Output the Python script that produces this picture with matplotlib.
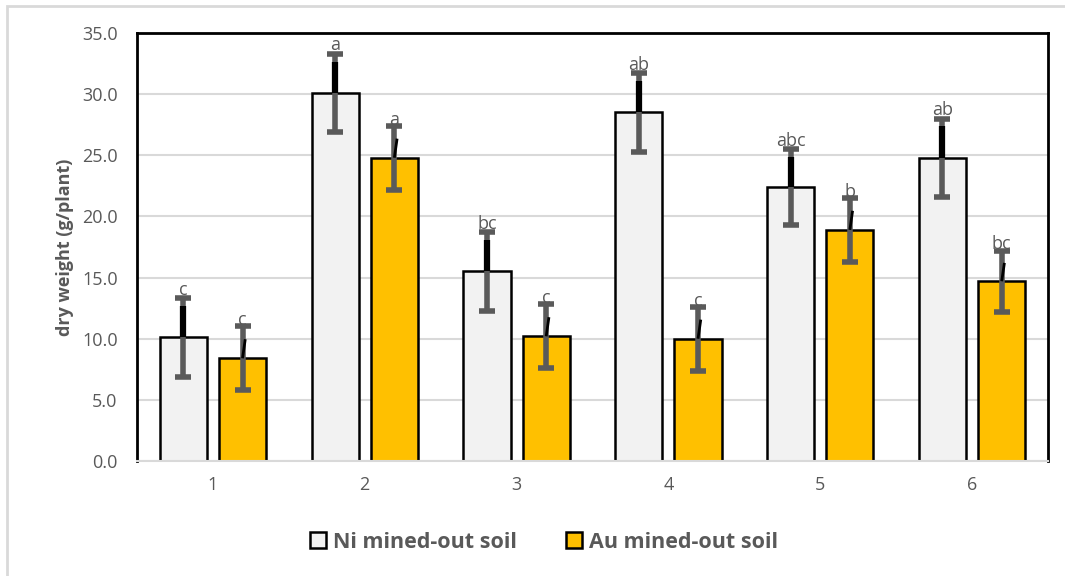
import numpy as np
from matplotlib import pyplot as plt
from matplotlib.patches import Rectangle

categories = ["1", "2", "3", "4", "5", "6"]
ni_values = [10.1, 30.1, 15.5, 28.5, 22.4, 24.8]
ni_errors = [3.2, 3.2, 3.2, 3.2, 3.1, 3.2]
au_values = [8.4, 24.8, 10.2, 10.0, 18.9, 14.7]
au_errors = [2.6, 2.6, 2.6, 2.6, 2.6, 2.5]
ni_letters = ["c", "a", "bc", "ab", "abc", "ab"]
au_letters = ["c", "a", "c", "c", "b", "bc"]
series_names = ["Ni mined-out soil", "Au mined-out soil"]
yticks = [0, 5, 10, 15, 20, 25, 30, 35]

GRAY_TEXT = "#595959"
ERR_COLOR = "#5a5a5a"
GRID = "#d9d9d9"

plt.rcParams['font.family'] = ['Open Sans', 'DejaVu Sans']

fig = plt.figure(figsize=(10.65, 5.76), dpi=100)
fig.patches.append(Rectangle((7 / 1065, -0.1), 1.2, 1.1 - 6 / 576,
                             transform=fig.transFigure, fill=False,
                             edgecolor=GRID, linewidth=2))
ax = fig.add_axes([137 / 1065, 1 - 461 / 576, 911 / 1065, 428 / 576])

x = np.arange(1, len(categories) + 1)
width = 0.31
offset = 0.195

ni_bars = ax.bar(x - offset, ni_values, width, color="#f2f2f2", edgecolor="black",
                 linewidth=1.8, label=series_names[0], zorder=2)
au_bars = ax.bar(x + offset, au_values, width, color="#ffc000", edgecolor="black",
                 linewidth=1.8, label=series_names[1], zorder=2)

ax.errorbar(x - offset, ni_values, yerr=ni_errors, fmt="none", ecolor=ERR_COLOR,
            elinewidth=4, capsize=6, capthick=4, zorder=3)
ax.errorbar(x + offset, au_values, yerr=au_errors, fmt="none", ecolor=ERR_COLOR,
            elinewidth=4, capsize=6, capthick=4, zorder=3)

# leader lines from bar tops to the significance letters (Excel artefact)
for xi, v, e in zip(x - offset, ni_values, ni_errors):
    ax.plot([xi, xi], [v, v + 0.8 * e], color="black", linewidth=4.5,
            solid_capstyle="butt", zorder=4)
for xi, v, e in zip(x + offset, au_values, au_errors):
    ax.plot([xi, xi + 0.018], [v, v + 0.6 * e], color="black", linewidth=2,
            solid_capstyle="butt", zorder=4)

for xi, v, e, t in zip(x - offset, ni_values, ni_errors, ni_letters):
    ax.text(xi, v + e + 0.3, t, ha="center", va="baseline", fontsize=13,
            color=GRAY_TEXT, zorder=5)
for xi, v, e, t in zip(x + offset, au_values, au_errors, au_letters):
    ax.text(xi, v + e + 0.1, t, ha="center", va="baseline", fontsize=13,
            color=GRAY_TEXT, zorder=5)

ax.set_xlim(0.5, 6.5)
ax.set_ylim(0, 35)
ax.set_xticks(x)
ax.set_xticklabels(categories)
ax.set_yticks(yticks)
ax.set_yticklabels([f"{t:.1f}" for t in yticks])
ax.tick_params(axis="both", length=0, labelsize=13, colors=GRAY_TEXT)
ax.tick_params(axis="x", pad=11)
ax.tick_params(axis="y", pad=14)
ax.yaxis.grid(True, color=GRID, linewidth=1.5, zorder=0)
ax.set_axisbelow(True)

for side in ["left", "top", "right"]:
    ax.spines[side].set_color("black")
    ax.spines[side].set_linewidth(2)
ax.spines["bottom"].set_color(GRID)
ax.spines["bottom"].set_linewidth(1.5)

ax.set_ylabel("dry weight (g/plant)", fontsize=13, fontweight="bold",
              color=GRAY_TEXT, labelpad=6)

leg = fig.legend(handles=[ni_bars, au_bars], labels=series_names, loc="center",
                 bbox_to_anchor=(544 / 1065, 1 - 542 / 576), ncol=2, frameon=False,
                 prop={"size": 15.5, "weight": "bold"}, handlelength=0.75,
                 handleheight=0.75, handletextpad=0.3, columnspacing=2.3)
for txt in leg.get_texts():
    txt.set_color(GRAY_TEXT)

fig.savefig("out.png", dpi=100)
